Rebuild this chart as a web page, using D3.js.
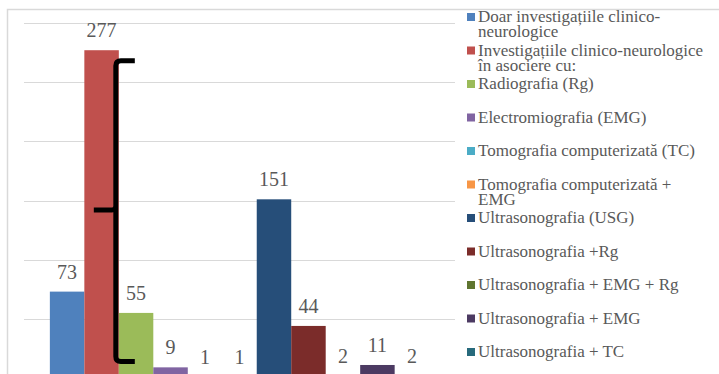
<!DOCTYPE html>
<html>
<head>
<meta charset="utf-8">
<script src="https://cdn.jsdelivr.net/npm/d3@7"></script>
<style>
  body { margin: 0; background: #fff; }
  svg text { font-family: "Liberation Serif", Tinos, "Times New Roman", "DejaVu Serif", serif; fill: #595959; }
</style>
</head>
<body>
<div id="chart"></div>
<script>
// Data
var seriesNames = [
  "Doar investigațiile clinico-\nneurologice",
  "Investigațiile clinico-neurologice\nîn asociere cu:",
  "Radiografia (Rg)",
  "Electromiografia (EMG)",
  "Tomografia computerizată (TC)",
  "Tomografia computerizată +\nEMG",
  "Ultrasonografia (USG)",
  "Ultrasonografia +Rg",
  "Ultrasonografia + EMG + Rg",
  "Ultrasonografia + EMG",
  "Ultrasonografia + TC"
];
var seriesValues = [73, 277, 55, 9, 1, 1, 151, 44, 2, 11, 2];
var seriesColors = ["#4f81bd", "#c0504d", "#9bbb59", "#8064a2", "#4bacc6", "#f79646",
                    "#264e79", "#7b2c2a", "#5f7530", "#4c3a62", "#276a7c"];
var gridTicks = [50, 100, 150, 200, 250, 300];

var svgWidth = 719;
var svgHeight = 374;

// plot area
var plot = { left: 24, right: 455, top: 23, bottom: 378 };

var svg = d3.select("#chart")
  .append("svg")
  .attr("width", svgWidth)
  .attr("height", svgHeight);

svg.append("rect")
  .attr("width", svgWidth)
  .attr("height", svgHeight)
  .attr("fill", "#fff");

// chart border (continues past the cropped edges)
svg.append("rect")
  .attr("x", 7.5)
  .attr("y", 9.5)
  .attr("width", 800)
  .attr("height", 500)
  .attr("fill", "none")
  .attr("stroke", "#d9d9d9")
  .attr("stroke-width", 1.5);

var x = d3.scaleBand()
  .domain(d3.range(seriesValues.length))
  .range([plot.left, plot.right])
  .paddingInner(0)
  .paddingOuter(0.75);

var y = d3.scaleLinear()
  .domain([0, 300])
  .range([plot.bottom, plot.top]);

// gridlines
svg.append("g")
  .selectAll("line")
  .data(gridTicks)
  .enter()
  .append("line")
  .attr("x1", plot.left)
  .attr("x2", plot.right)
  .attr("y1", d => Math.round(y(d)) + 0.5)
  .attr("y2", d => Math.round(y(d)) + 0.5)
  .attr("stroke", "#d9d9d9")
  .attr("stroke-width", 1);

// bars
svg.append("g")
  .selectAll("rect")
  .data(seriesValues)
  .enter()
  .append("rect")
  .attr("x", (d, i) => x(i))
  .attr("y", d => y(d))
  .attr("width", x.bandwidth())
  .attr("height", d => plot.bottom - y(d))
  .attr("fill", (d, i) => seriesColors[i]);

// data labels
svg.append("g")
  .selectAll("text")
  .data(seriesValues)
  .enter()
  .append("text")
  .attr("x", (d, i) => x(i) + x.bandwidth() / 2)
  .attr("y", d => y(d) - 13)
  .attr("text-anchor", "middle")
  .style("font-size", "20px")
  .text(d => d);

// bracket annotation (left curly brace)
var bx = x(1) + x.bandwidth() - 3;
var yTop = y(268), yMid = y(142), yBot = y(14);
svg.append("path")
  .attr("d", `M${bx + 19},${yTop} H${bx + 5} Q${bx},${yTop} ${bx},${yTop + 5}
              V${yMid - 4} Q${bx},${yMid} ${bx - 4},${yMid} H${bx - 22}
              M${bx},${yMid - 4} V${yBot - 5} Q${bx},${yBot} ${bx + 5},${yBot} H${bx + 19}`)
  .attr("fill", "none")
  .attr("stroke", "#000")
  .attr("stroke-width", 5)
  .attr("stroke-linejoin", "round");

// legend
var legend = svg.append("g")
  .attr("transform", "translate(467, 17)");

var items = legend.selectAll("g")
  .data(seriesNames)
  .enter()
  .append("g")
  .attr("transform", (d, i) => `translate(0, ${i * 33.5})`);

items.append("rect")
  .attr("x", 0)
  .attr("y", -4)
  .attr("width", 8)
  .attr("height", 8)
  .attr("fill", (d, i) => seriesColors[i]);

items.append("text")
  .attr("x", 11)
  .attr("y", 5)
  .style("font-size", "17px")
  .selectAll("tspan")
  .data(d => d.split("\n"))
  .enter()
  .append("tspan")
  .attr("x", 11)
  .attr("dy", (d, i) => i === 0 ? 0 : 15)
  .text(d => d);
</script>
</body>
</html>
